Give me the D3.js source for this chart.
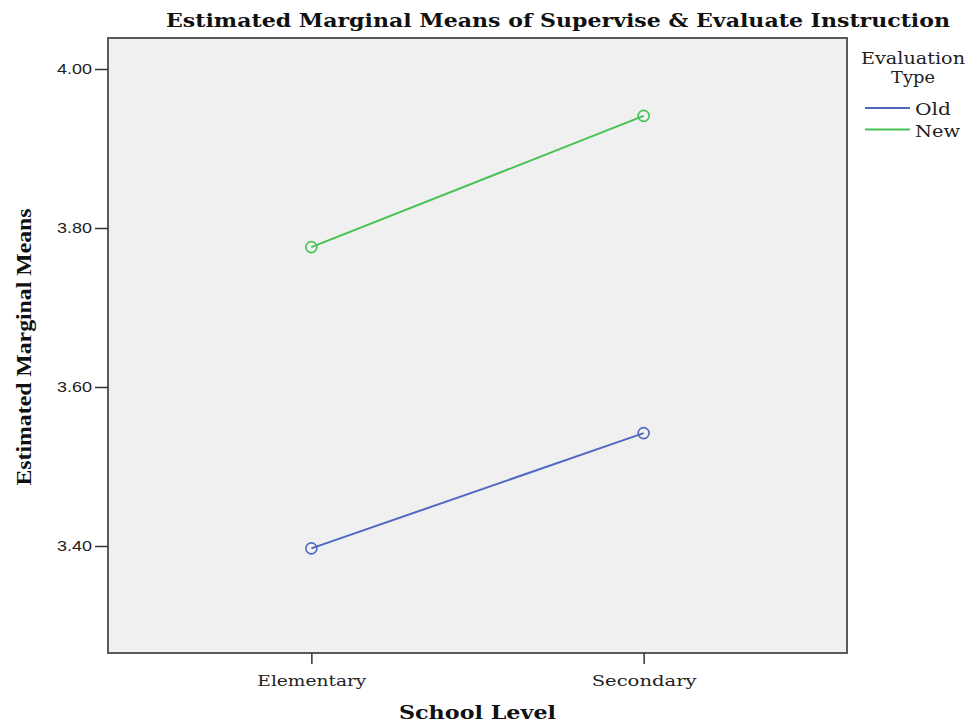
<!DOCTYPE html>
<html><head><meta charset="utf-8">
<script src="https://cdn.jsdelivr.net/npm/d3@7"></script>
<style>body{margin:0;background:#fff}svg{display:block}</style>
</head><body>
<svg id="c" width="967" height="724"></svg>
<script>
const categories = ["Elementary", "Secondary"];
const seriesNames = ["Old", "New"];
const oldValues = [3.397, 3.542];
const newValues = [3.776, 3.941];
const yTicks = [3.40, 3.60, 3.80, 4.00];
const colors = ["#4f69c3", "#44c352"];

const svg = d3.select("#c");
const L = 108, R = 847, T = 38, B = 653;

const x = d3.scalePoint().domain(categories).range([L, R]).padding(0.612);
const y = d3.scaleLinear().domain([3.2654, 4.039]).range([B, T]);

svg.append("rect").attr("x", L).attr("y", T).attr("width", R - L).attr("height", B - T)
  .attr("fill", "#f0f0f0").attr("stroke", "#5a5a5a").attr("stroke-width", 2);

// y axis
const ya = svg.append("g").attr("transform", `translate(${L},0)`)
  .call(d3.axisLeft(y).tickValues(yTicks).tickFormat(d3.format(".2f")).tickSize(13).tickPadding(3));
ya.select(".domain").remove();
ya.selectAll("line").attr("stroke", "#333").attr("stroke-width", 1.5);
ya.selectAll("text").attr("font-family", "Liberation Sans, Arial, sans-serif").attr("font-size", 15)
  .attr("fill", "#222").attr("textLength", 35).attr("lengthAdjust", "spacingAndGlyphs");

// x axis
const xa = svg.append("g").attr("transform", `translate(0,${B})`)
  .call(d3.axisBottom(x).tickSize(11).tickPadding(8));
xa.select(".domain").remove();
xa.selectAll("line").attr("stroke", "#333").attr("stroke-width", 1.5);
xa.selectAll("text").attr("font-family", "DejaVu Serif, serif").attr("font-size", 15)
  .attr("fill", "#222").attr("dy", "0.95em")
  .attr("textLength", d => d === "Elementary" ? 109 : 105).attr("lengthAdjust", "spacingAndGlyphs");

// series
const series = [oldValues, newValues];
const line = d3.line().x((d, i) => x(categories[i])).y(d => y(d));
series.forEach((vals, si) => {
  svg.append("path").datum(vals).attr("d", line).attr("fill", "none")
    .attr("stroke", colors[si]).attr("stroke-width", 2);
  svg.selectAll(null).data(vals).join("circle")
    .attr("cx", (d, i) => x(categories[i])).attr("cy", d => y(d)).attr("r", 5.5)
    .attr("fill", "none").attr("stroke", colors[si]).attr("stroke-width", 1.6);
});

// title
svg.append("text").attr("x", 558).attr("y", 27).attr("text-anchor", "middle")
  .attr("font-family", "DejaVu Serif, serif").attr("font-weight", "bold").attr("font-size", 18)
  .attr("fill", "#111").attr("textLength", 784).attr("lengthAdjust", "spacingAndGlyphs")
  .text("Estimated Marginal Means of Supervise & Evaluate Instruction");

// axis titles
svg.append("text").attr("x", 477.5).attr("y", 719).attr("text-anchor", "middle")
  .attr("font-family", "DejaVu Serif, serif").attr("font-weight", "bold").attr("font-size", 19)
  .attr("fill", "#111").attr("textLength", 157).attr("lengthAdjust", "spacingAndGlyphs")
  .text("School Level");
svg.append("text").attr("transform", "translate(31,347) rotate(-90)").attr("text-anchor", "middle")
  .attr("font-family", "Liberation Serif, Times New Roman, serif").attr("font-weight", "bold").attr("font-size", 22)
  .attr("fill", "#111").attr("textLength", 277).attr("lengthAdjust", "spacingAndGlyphs")
  .text("Estimated Marginal Means");

// legend
const lf = "DejaVu Serif, serif";
svg.append("text").attr("x", 913).attr("y", 64).attr("text-anchor", "middle")
  .attr("font-family", lf).attr("font-size", 16).attr("fill", "#222")
  .attr("textLength", 104).attr("lengthAdjust", "spacingAndGlyphs").text("Evaluation");
svg.append("text").attr("x", 913).attr("y", 83).attr("text-anchor", "middle")
  .attr("font-family", lf).attr("font-size", 16).attr("fill", "#222")
  .attr("textLength", 44).attr("lengthAdjust", "spacingAndGlyphs").text("Type");
const lg = svg.selectAll(".lg").data(seriesNames).join("g").attr("class", "lg")
  .attr("transform", (d, i) => `translate(865,${108 + i * 21.5})`);
lg.append("line").attr("x1", 0).attr("x2", 45).attr("stroke", (d, i) => colors[i]).attr("stroke-width", 1.8);
lg.append("text").attr("x", 50).attr("y", 7).attr("font-family", lf).attr("font-size", 16).attr("fill", "#222")
  .attr("textLength", (d) => d === "Old" ? 36 : 45).attr("lengthAdjust", "spacingAndGlyphs").text(d => d);
</script>
</body></html>
